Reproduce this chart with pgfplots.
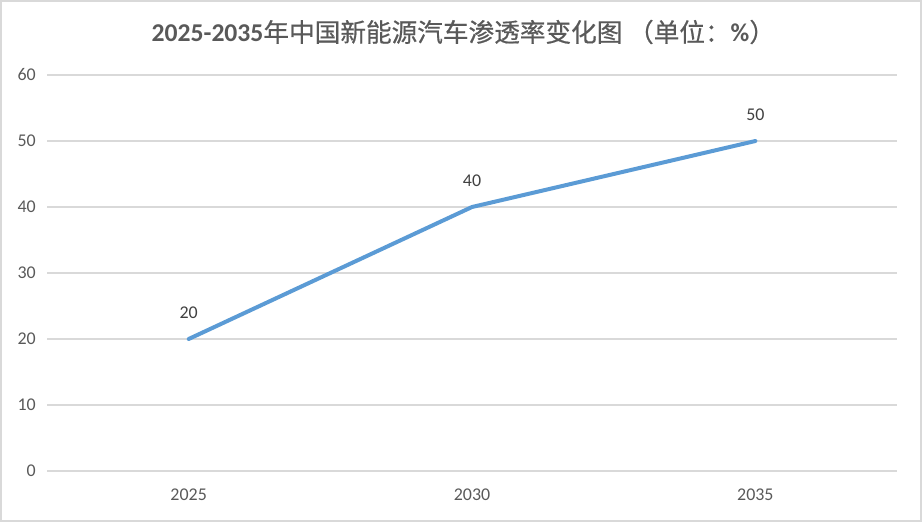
\documentclass[border=0pt]{standalone}
\usepackage{pgfplots}
\pgfplotsset{compat=1.18}
\usepackage{fontspec}
\setmainfont{Carlito}
\newfontface\cjk[FakeBold=0.6]{Noto Sans CJK SC}
\definecolor{linec}{HTML}{5B9BD5}
\definecolor{gridc}{HTML}{D9D9D9}
\definecolor{txt}{HTML}{595959}
\definecolor{lbl}{HTML}{404040}
\begin{document}
\begin{tikzpicture}[x=1bp,y=1bp]
\draw[gridc, line width=1.5bp] (0.75,0.75) rectangle (690.75,390.75);
\node[txt, font=\fontsize{19.3}{21}\selectfont] at (347.5,367.5) {\textbf{2025-2035}{\cjk 年中国新能源汽车渗透率变化图 （单位：}\textbf{\%}{\cjk ）}};
\begin{axis}[
  at={(35.25bp,38.25bp)}, anchor=south west,
  scale only axis, width=637.5bp, height=297bp,
  xmin=-0.5, xmax=2.5, ymin=0, ymax=60,
  ytick={0,10,...,60}, xtick={0,1,2}, xticklabels={2025,2030,2035},
  axis line style={draw=none},
  major tick length=0pt,
  ymajorgrids, grid style={gridc, line width=0.9bp},
  tick label style={font=\fontsize{13.5}{16}\selectfont, text=txt, inner sep=0pt},
  yticklabel style={anchor=east, xshift=-8.25bp},
  xticklabel style={anchor=base, yshift=-21.75bp},
  /pgf/number format/assume math mode=true,
  clip=false,
  nodes near coords,
  every node near coord/.append style={font=\fontsize{13.5}{16}\selectfont, text=lbl, anchor=base, inner sep=0pt, yshift=15.75bp},
]
\addplot[linec, line width=3bp, line cap=round, line join=round, mark=none] coordinates {(0,20) (1,40) (2,50)};
\end{axis}
\end{tikzpicture}
\end{document}
